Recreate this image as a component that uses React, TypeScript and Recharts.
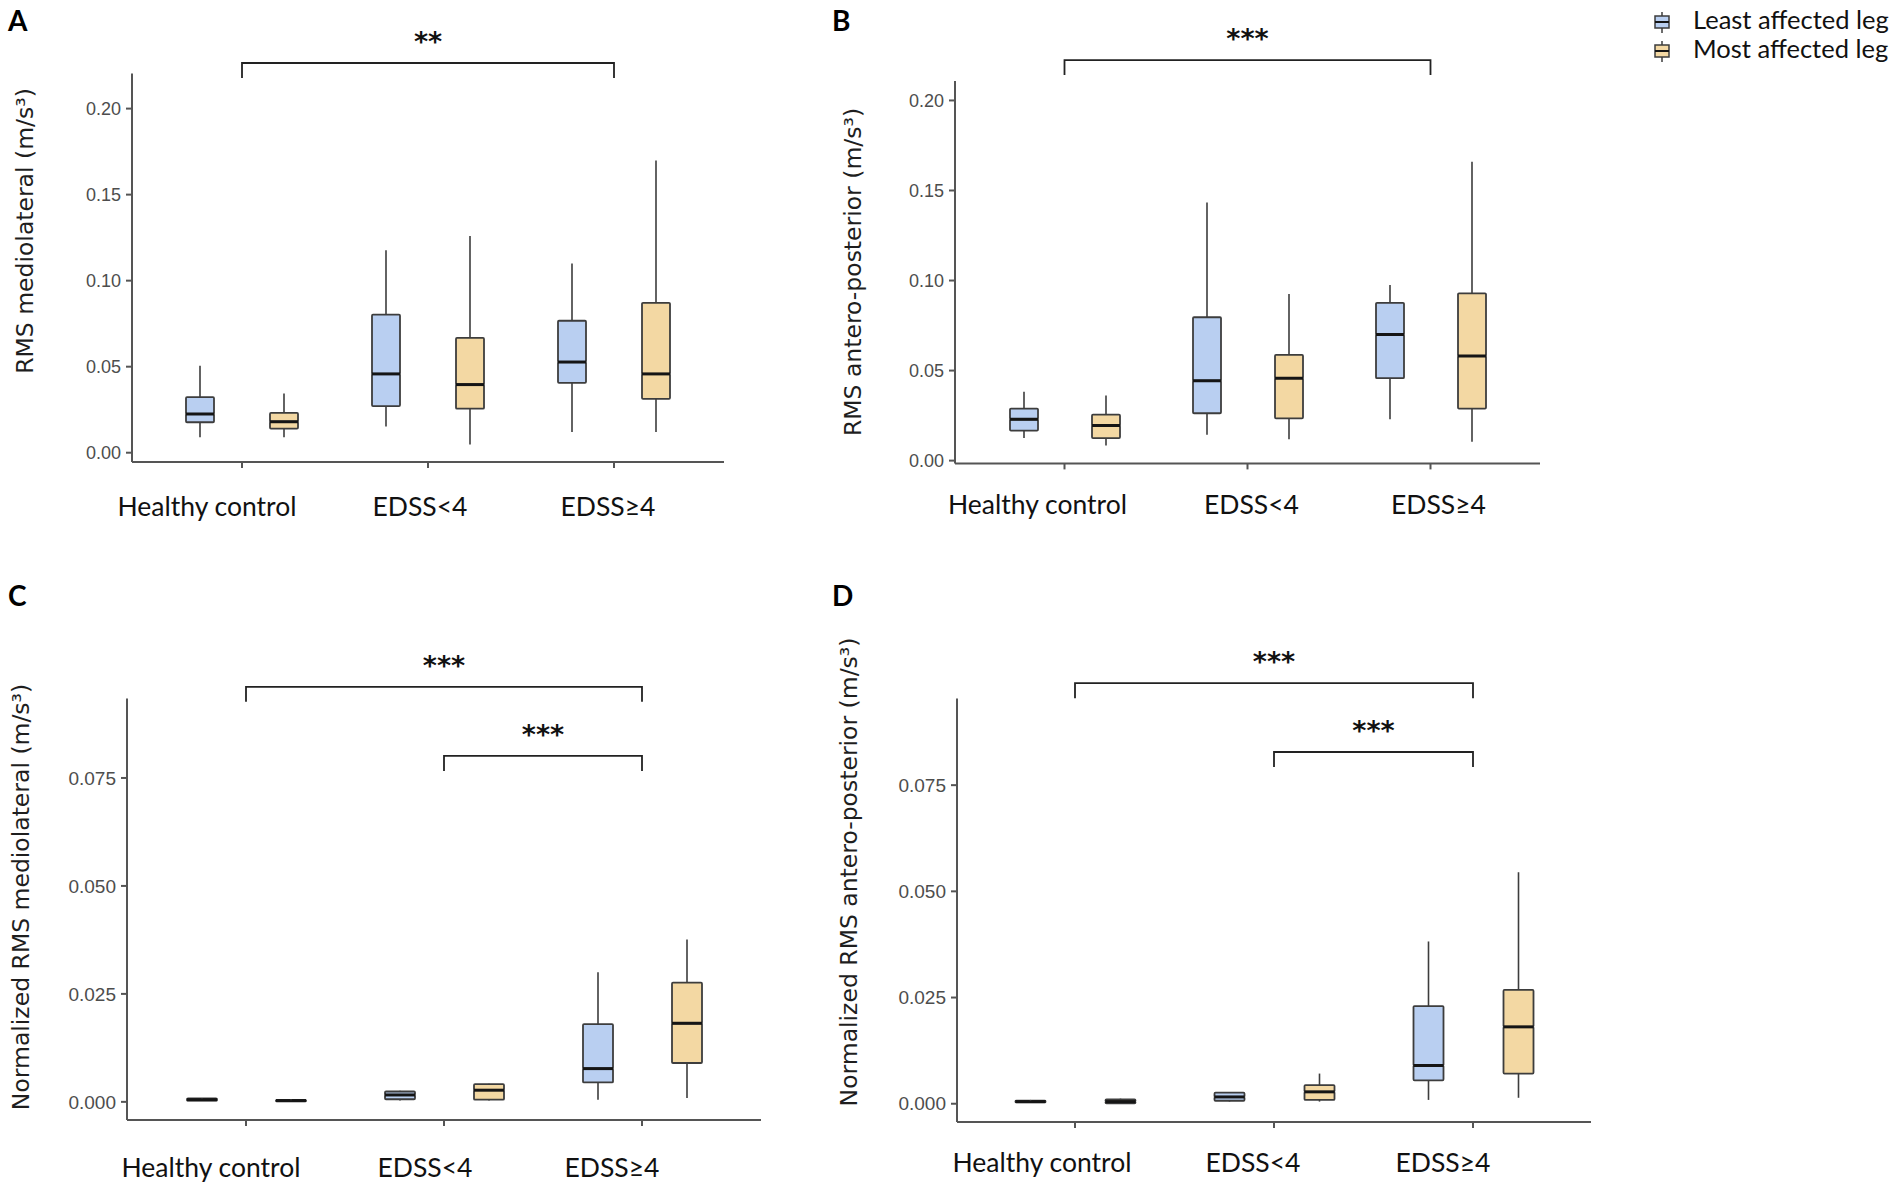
import React from "react";
import { BarChart, Bar, XAxis, YAxis, ReferenceLine } from "recharts";

const groups = ["Healthy control", "EDSS<4", "EDSS≥4"];

// five-number summaries per group: [min, q1, median, q3, max]
const mlLeast = [
  [0.009, 0.0177, 0.0225, 0.0323, 0.0506],
  [0.0152, 0.0271, 0.0458, 0.0802, 0.1177],
  [0.0121, 0.0406, 0.0527, 0.0767, 0.11],
];
const mlMost = [
  [0.009, 0.014, 0.018, 0.0231, 0.0344],
  [0.0048, 0.0256, 0.0396, 0.0667, 0.126],
  [0.0121, 0.0313, 0.0458, 0.0871, 0.1698],
];
const apLeast = [
  [0.0125, 0.0167, 0.0229, 0.0289, 0.0382],
  [0.0143, 0.0263, 0.0444, 0.0796, 0.1433],
  [0.0229, 0.0458, 0.07, 0.0876, 0.0975],
];
const apMost = [
  [0.0084, 0.0125, 0.0195, 0.0255, 0.0362],
  [0.0119, 0.0235, 0.0458, 0.0587, 0.0925],
  [0.0105, 0.0289, 0.0581, 0.0929, 0.166],
];
const nmlLeast = [
  [0.0002, 0.0003, 0.0005, 0.0008, 0.0009],
  [0.0003, 0.0006, 0.0016, 0.0024, 0.0026],
  [0.0005, 0.0045, 0.0077, 0.018, 0.03],
];
const nmlMost = [
  [0.0, 0.0001, 0.0003, 0.0004, 0.0006],
  [0.0003, 0.0005, 0.0027, 0.0041, 0.0042],
  [0.0009, 0.009, 0.0182, 0.0276, 0.0376],
];
const napLeast = [
  [0.0002, 0.0003, 0.0005, 0.0007, 0.0009],
  [0.0005, 0.0007, 0.0016, 0.0026, 0.0027],
  [0.0009, 0.0055, 0.009, 0.023, 0.0382],
];
const napMost = [
  [0.0001, 0.0001, 0.0005, 0.001, 0.0012],
  [0.0005, 0.0009, 0.0028, 0.0044, 0.0071],
  [0.0014, 0.0071, 0.0181, 0.0268, 0.0545],
];

const rawTicks = [0, 0.05, 0.1, 0.15, 0.2];
const normTicks = [0, 0.025, 0.05, 0.075];

// significance brackets: group indices, height (data units), stars
const sigA = [{ from: 0, to: 2, y: 0.2265, stars: "**" }];
const sigB = [{ from: 0, to: 2, y: 0.2224, stars: "***" }];
const sigC = [
  { from: 0, to: 2, y: 0.0961, stars: "***" },
  { from: 1, to: 2, y: 0.0801, stars: "***" },
];
const sigD = [
  { from: 0, to: 2, y: 0.099, stars: "***" },
  { from: 1, to: 2, y: 0.0828, stars: "***" },
];

const BLUE = "#b9cff1";
const ORANGE = "#f3d8a3";
const EDGE = "#3d3d3d";
const AXIS = { stroke: "#555", strokeWidth: 2 };

const toRows = (least: number[][], most: number[][]) =>
  groups.map((group, i) => {
    const l = least[i];
    const m = most[i];
    return {
      group,
      lBase: l[0], lLoW: l[1] - l[0], lLoB: l[2] - l[1], lUpB: l[3] - l[2], lUpW: l[4] - l[3],
      mBase: m[0], mLoW: m[1] - m[0], mLoB: m[2] - m[1], mUpB: m[3] - m[2], mUpW: m[4] - m[3],
    };
  });

const emptyShape = () => <g />;

const whiskerShape = (props: any) => {
  const { x, y, width, height } = props;
  const cx = x + width / 2;
  return <line x1={cx} x2={cx} y1={y} y2={y + height} stroke={EDGE} strokeWidth={1.6} />;
};

const boxShape = (fill: string, withMedian: boolean) => (props: any) => {
  const { x, y, width, height } = props;
  return (
    <g>
      <rect x={x} y={y} width={width} height={Math.max(height, 0)} fill={fill} stroke={EDGE} strokeWidth={1.8} rx={1} />
      {withMedian && (
        <line x1={x} x2={x + width} y1={y + height} y2={y + height} stroke="#151515" strokeWidth={3} />
      )}
    </g>
  );
};

const bracketShape = (stars: string) => (props: any) => {
  const { x1, y1, x2, y2 } = props;
  return (
    <g>
      <path d={`M${x1},${y1 + 15}V${y1}H${x2}V${y2 + 15}`} fill="none" stroke="#222" strokeWidth={1.8} />
      <text x={(x1 + x2) / 2} y={y1 - 12} textAnchor="middle" fontFamily="DejaVu Sans" fontWeight="bold" fontSize={27} fill="#111">
        {stars}
      </text>
    </g>
  );
};

const xTick = (shift: number[], dy: number) => (props: any) => {
  const { x, y, payload, index } = props;
  return (
    <text x={x + shift[index]} y={y + dy} textAnchor="middle" dominantBaseline="central" fontFamily="Lato" fontSize={26.5} fill="#111">
      {payload.value}
    </text>
  );
};

const panels = [
  {
    key: "A", left: 0, top: 0, width: 800, height: 580,
    margin: { top: 73.5, right: 76, bottom: 58, left: 72 }, pad: 17,
    rows: toRows(mlLeast, mlMost), domain: [-0.0054, 0.2204], ticks: rawTicks, digits: 2, tickFont: 18,
    barSize: 28, barGap: 56, shift: [-35, -8, -6], labelDy: 36, sig: sigA,
  },
  {
    key: "B", left: 800, top: 0, width: 800, height: 580,
    margin: { top: 81, right: 60, bottom: 56.6, left: 95 }, pad: 18,
    rows: toRows(apLeast, apMost), domain: [-0.00155, 0.2108], ticks: rawTicks, digits: 2, tickFont: 18,
    barSize: 28, barGap: 54, shift: [-27, 4, 8], labelDy: 33, sig: sigB,
  },
  {
    key: "C", left: 0, top: 580, width: 800, height: 606,
    margin: { top: 118.5, right: 39, bottom: 6, left: 67 }, pad: 20,
    rows: toRows(nmlLeast, nmlMost), domain: [-0.0042, 0.0934], ticks: normTicks, digits: 3, tickFont: 19,
    barSize: 30, barGap: 59, shift: [-35, -19, -30], labelDy: 39, sig: sigC,
  },
  {
    key: "D", left: 800, top: 580, width: 800, height: 606,
    margin: { top: 118.5, right: 9, bottom: 4, left: 97 }, pad: 18.5,
    rows: toRows(napLeast, napMost), domain: [-0.0043, 0.0954], ticks: normTicks, digits: 3, tickFont: 19,
    barSize: 30, barGap: 60, shift: [-33, -21, -30], labelDy: 32, sig: sigD,
  },
];

function Panel({ p }: { p: any }) {
  return (
    <div style={{ position: "absolute", left: p.left, top: p.top }}>
      <BarChart width={p.width} height={p.height} data={p.rows} margin={p.margin} barSize={p.barSize} barGap={p.barGap}>
        <XAxis
          dataKey="group"
          padding={{ left: p.pad, right: p.pad }}
          height={60}
          tickSize={6}
          interval={0}
          axisLine={AXIS}
          tickLine={AXIS}
          tick={xTick(p.shift, p.labelDy)}
        />
        <YAxis
          type="number"
          width={60}
          domain={p.domain}
          ticks={p.ticks}
          allowDataOverflow
          tickFormatter={(v: number) => v.toFixed(p.digits)}
          tickSize={6}
          tickMargin={5}
          axisLine={AXIS}
          tickLine={AXIS}
          tick={{ fill: "#4d4d4d", fontSize: p.tickFont, fontFamily: "Liberation Sans" }}
        />
        <Bar dataKey="lBase" stackId="least" shape={emptyShape} isAnimationActive={false} />
        <Bar dataKey="lLoW" stackId="least" shape={whiskerShape} isAnimationActive={false} />
        <Bar dataKey="lLoB" stackId="least" shape={boxShape(BLUE, false)} isAnimationActive={false} />
        <Bar dataKey="lUpB" stackId="least" shape={boxShape(BLUE, true)} isAnimationActive={false} />
        <Bar dataKey="lUpW" stackId="least" shape={whiskerShape} isAnimationActive={false} />
        <Bar dataKey="mBase" stackId="most" shape={emptyShape} isAnimationActive={false} />
        <Bar dataKey="mLoW" stackId="most" shape={whiskerShape} isAnimationActive={false} />
        <Bar dataKey="mLoB" stackId="most" shape={boxShape(ORANGE, false)} isAnimationActive={false} />
        <Bar dataKey="mUpB" stackId="most" shape={boxShape(ORANGE, true)} isAnimationActive={false} />
        <Bar dataKey="mUpW" stackId="most" shape={whiskerShape} isAnimationActive={false} />
        {p.sig.map((s: any, i: number) => (
          <ReferenceLine
            key={i}
            segment={[{ x: groups[s.from], y: s.y }, { x: groups[s.to], y: s.y }]}
            ifOverflow="visible"
            shape={bracketShape(s.stars)}
          />
        ))}
      </BarChart>
    </div>
  );
}

const titles = [
  { text: "RMS mediolateral (m/s³)", x: 25, y: 231 },
  { text: "RMS antero-posterior (m/s³)", x: 853, y: 272 },
  { text: "Normalized RMS mediolateral (m/s³)", x: 21, y: 897 },
  { text: "Normalized RMS antero-posterior (m/s³)", x: 849, y: 872 },
];

const letters = [
  { text: "A", x: 8, y: 31 },
  { text: "B", x: 832, y: 31 },
  { text: "C", x: 8, y: 606 },
  { text: "D", x: 832, y: 606 },
];

const legendItems = [
  { label: "Least affected leg", fill: BLUE },
  { label: "Most affected leg", fill: ORANGE },
];

export default function App() {
  return (
    <div style={{ position: "absolute", left: 0, top: 0, width: 1902, height: 1186, background: "#fff" }}>
      {panels.map((p) => (
        <Panel key={p.key} p={p} />
      ))}
      <svg width={1902} height={1186} style={{ position: "absolute", left: 0, top: 0, pointerEvents: "none" }}>
        {titles.map((t) => (
          <text
            key={t.text}
            x={t.x}
            y={t.y}
            transform={`rotate(-90, ${t.x}, ${t.y})`}
            textAnchor="middle"
            dominantBaseline="central"
            fontFamily="DejaVu Sans"
            fontSize={23.5}
            fill="#1e1e1e"
          >
            {t.text}
          </text>
        ))}
        {letters.map((l) => (
          <text key={l.text} x={l.x} y={l.y} fontFamily="Lato" fontWeight="bold" fontSize={28} fill="#000">
            {l.text}
          </text>
        ))}
        {legendItems.map((item, i) => {
          const y0 = 12 + i * 29;
          return (
            <g key={item.label}>
              <line x1={1662} x2={1662} y1={y0} y2={y0 + 21} stroke={EDGE} strokeWidth={1.5} />
              <rect x={1655} y={y0 + 4} width={14} height={12} fill={item.fill} stroke={EDGE} strokeWidth={1.5} />
              <line x1={1655} x2={1669} y1={y0 + 10} y2={y0 + 10} stroke="#151515" strokeWidth={2} />
              <text x={1693} y={y0 + 17} fontFamily="Lato" fontSize={25.5} fill="#111">
                {item.label}
              </text>
            </g>
          );
        })}
      </svg>
    </div>
  );
}
